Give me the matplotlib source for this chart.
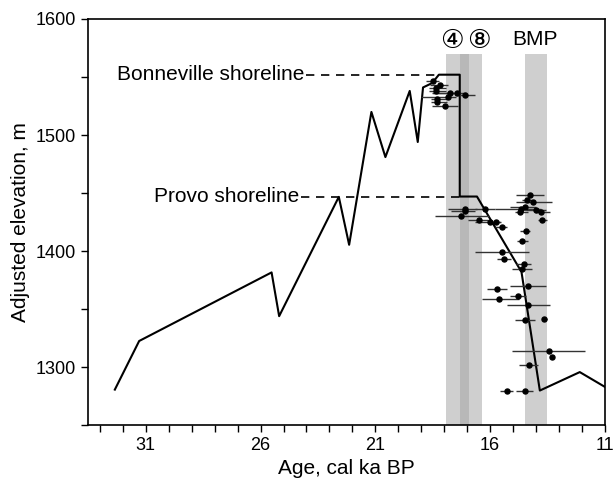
import matplotlib
matplotlib.use("Agg")
import matplotlib.pyplot as plt
import numpy as np

plt.rcParams["font.family"] = ["Liberation Sans", "DejaVu Sans"]

# lake hydrograph (age in cal ka BP, adjusted elevation in m)
hydro_age = [32.35, 31.29, 25.52, 25.19, 22.59, 22.14, 21.17, 20.56, 19.50,
             19.15, 18.92, 18.52, 18.23, 17.32, 17.32, 16.57, 14.63, 13.83,
             12.09, 11.0]
hydro_elev = [1280.6, 1322.5, 1381.6, 1343.9, 1446.7, 1405.4, 1519.9, 1481.0,
              1538.0, 1494.0, 1541.0, 1544.8, 1552.0, 1552.0, 1447.0, 1447.0,
              1382.0, 1279.8, 1295.7, 1283.0]

# dated samples: age, elevation, and the old / young end of each age bar
pt_age = [14.24, 14.12, 14.41, 14.63, 14.49, 14.70, 13.98, 13.76, 13.72,
          17.10, 17.10, 17.25, 16.23, 16.48, 16.01, 15.76, 15.50, 14.44,
          14.59, 15.50, 15.39, 14.53, 14.59, 15.68, 14.34, 14.78, 15.60,
          14.34, 14.49, 13.64, 13.43, 13.32, 14.30, 15.24, 14.49,
          18.48, 18.16, 18.36, 18.36, 17.75, 17.83, 17.43, 17.10, 18.33,
          18.33, 17.97]
pt_elev = [1448.1, 1442.3, 1443.7, 1436.2, 1437.7, 1433.9, 1435.7, 1433.4,
           1426.4, 1436.2, 1434.2, 1429.9, 1436.5, 1426.4, 1424.7, 1424.7,
           1420.4, 1416.9, 1408.5, 1399.0, 1393.0, 1388.6, 1384.9, 1367.6,
           1369.6, 1361.2, 1358.9, 1353.4, 1340.7, 1341.3, 1313.6, 1308.7,
           1301.5, 1279.0, 1279.0,
           1546.7, 1543.3, 1540.1, 1538.1, 1536.1, 1533.2, 1536.6, 1534.9,
           1530.9, 1528.6, 1525.1]
bar_old = [14.85, 14.92, 14.63, 15.50, 14.99, 15.07, 14.41, 14.12, 13.90,
           17.61, 17.53, 18.44, 16.66, 16.88, 16.45, 16.01, 15.72, 14.63,
           14.85, 16.71, 15.68, 14.85, 14.99, 16.08, 15.10, 15.14, 16.45,
           15.28, 14.92, 13.76, 14.99, 13.40, 14.67, 15.50, 14.85,
           18.75, 18.48, 18.80, 18.80, 18.04, 18.19, 17.83, 17.54, 18.80,
           18.80, 18.55]
bar_young = [13.61, 13.37, 14.20, 13.47, 13.83, 14.48, 13.54, 13.47, 13.54,
             16.37, 16.52, 16.08, 15.79, 16.01, 15.36, 15.58, 15.21, 14.19,
             14.34, 14.34, 15.07, 14.19, 14.12, 15.21, 13.54, 14.41, 14.85,
             13.43, 14.05, 13.54, 11.83, 13.25, 13.86, 14.92, 14.12,
             18.19, 17.72, 18.07, 18.07, 17.03, 16.66, 16.33, 16.66, 18.07,
             18.07, 17.39]

# shaded intervals
band_start = [17.90, 17.29, 14.47]
band_end = [16.91, 16.33, 13.51]
band_labels = ["\u2463", "\u2467", "BMP"]
band_label_age = [17.66, 16.47, 14.02]

shore_names = ["Bonneville shoreline", "Provo shoreline"]
shore_elev = [1552.0, 1447.0]
shore_text_age = [24.10, 24.33]
shore_dash_end = [18.23, 17.32]

fig = plt.figure(figsize=(6.14, 4.82), dpi=100)
ax = fig.add_axes([0.1433, 0.118, 0.8417, 0.8426])

for s, e in zip(band_start, band_end):
    ax.fill_between([s, e], 1250, 1570, color="#cfcfcf", lw=0, zorder=0)
# overlap of the two left bands is darker
ax.fill_between([band_start[1], band_end[0]], 1250, 1570, color="#b8b8b8",
                lw=0, zorder=0)

for lab, a in zip(band_labels, band_label_age):
    if lab == "BMP":
        ax.text(a, 1582, lab, ha="center", va="center", fontsize=15)
    else:
        ax.text(a, 1581, lab, ha="center", va="center", fontsize=19,
                family=["DejaVu Sans", "Noto Sans CJK JP"])

for name, el, ta, de in zip(shore_names, shore_elev, shore_text_age,
                            shore_dash_end):
    ax.text(ta, el, name, ha="right", va="center", fontsize=15)
    ax.plot([ta - 0.08, de], [el, el], color="black", lw=1.2,
            linestyle=(0, (5, 4)), zorder=2)

ax.plot(hydro_age, hydro_elev, color="black", lw=1.5, zorder=3)

pa = np.array(pt_age)
xerr = [np.array(bar_old) - pa, pa - np.array(bar_young)]
ax.errorbar(pa, pt_elev, xerr=xerr, fmt="o", color="black", ecolor="#333333",
            elinewidth=1.0, capsize=0, markersize=3.6, zorder=4)

ax.set_xlim(33.52, 11)
ax.set_ylim(1250, 1600)
ax.set_xticks([31, 26, 21, 16, 11])
ax.set_xticks(np.arange(33, 10.5, -1), minor=True)
ax.set_yticks([1300, 1400, 1500, 1600])
ax.set_yticks(np.arange(1250, 1601, 50), minor=True)
ax.tick_params(direction="out", labelsize=13, length=5, width=1)
ax.tick_params(which="minor", direction="out", length=5, width=1)
for sp in ax.spines.values():
    sp.set_linewidth(1.2)

ax.set_xlabel("Age, cal ka BP", fontsize=15)
ax.set_ylabel("Adjusted elevation, m", fontsize=15)

fig.savefig("out.png", dpi=100)
